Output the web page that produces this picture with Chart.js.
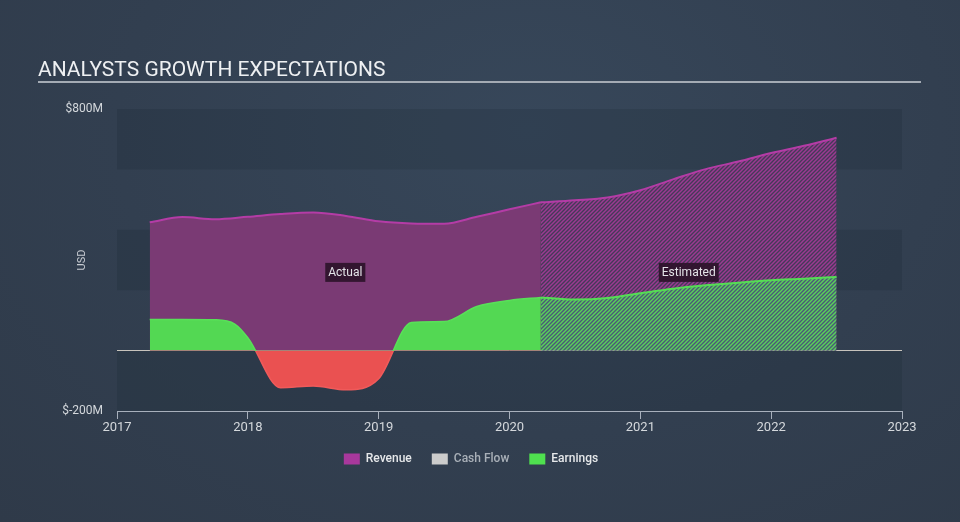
<!DOCTYPE html>
<html>
<head>
<meta charset="utf-8">
<script src="https://cdn.jsdelivr.net/npm/chart.js@4"></script>
<style>
  html, body { margin: 0; padding: 0; }
  body { width: 960px; height: 522px; overflow: hidden;
    background: radial-gradient(ellipse at 55% 25%, #37475a 0%, #323f50 55%, #2f3a49 100%); }
  #wrap { width: 960px; height: 522px; }
</style>
</head>
<body>
<div id="wrap"><canvas id="growth" width="960" height="522"></canvas></div>
<script>
// values in $M, x in decimal years
const revActualYears = [2017.25, 2017.5, 2017.75, 2018.0, 2018.25, 2018.5, 2018.75, 2019.0, 2019.25, 2019.5, 2019.75, 2020.0, 2020.24]
const revActual      = [425, 442, 435, 443, 452, 457, 446, 428, 421, 420, 443, 468, 491]
const revEstYears    = [2020.24, 2020.5, 2020.75, 2021.0, 2021.25, 2021.5, 2021.75, 2022.0, 2022.25, 2022.5]
const revEstimate    = [491, 498, 507, 531, 567, 601, 626, 654, 678, 705]

const earnActualYears = [2017.25, 2017.5, 2017.75, 2017.9, 2018.0, 2018.25, 2018.5, 2018.75, 2019.0, 2019.25, 2019.5, 2019.75, 2020.0, 2020.24]
const earnActual      = [103, 103, 102, 88, 43, -123, -117, -130, -93, 93, 96, 146, 166, 176]
const earnEstYears    = [2020.24, 2020.5, 2020.75, 2021.0, 2021.25, 2021.5, 2021.75, 2022.0, 2022.25, 2022.5]
const earnEstimate    = [176, 169, 174, 190, 205, 216, 225, 233, 238, 244]

const legendNames  = ['Revenue', 'Cash Flow', 'Earnings']
const legendColors = ['#a8389c', '#cccccc', '#4fe04f']
const legendText   = ['#e6e8ea', '#a9b0b8', '#e6e8ea']

const toPoints = (xs, ys) => xs.map((x, i) => ({x: x, y: ys[i]}))

const hatch = (bg, fg) => {
  const c = document.createElement('canvas')
  c.width = 4; c.height = 4
  const g = c.getContext('2d')
  g.fillStyle = bg
  g.fillRect(0, 0, 4, 4)
  g.strokeStyle = fg
  g.lineWidth = 1.5
  g.beginPath()
  g.moveTo(0, 4); g.lineTo(4, 0)
  g.moveTo(-1, 1); g.lineTo(1, -1)
  g.moveTo(3, 5); g.lineTo(5, 3)
  g.stroke()
  return g.createPattern(c, 'repeat')
}

// green above zero, red below, for the earnings outline
const earnBorder = (c) => {
  const chart = c.chart
  if (!chart.chartArea) return '#58e058'
  const {top, bottom} = chart.chartArea
  const y0 = chart.scales.y.getPixelForValue(0)
  const stop = Math.min(Math.max((y0 - top) / (bottom - top), 0), 1)
  const g = chart.ctx.createLinearGradient(0, top, 0, bottom)
  g.addColorStop(0, '#58e058')
  g.addColorStop(stop, '#58e058')
  g.addColorStop(stop, '#f05a5a')
  g.addColorStop(1, '#f05a5a')
  return g
}

// title, bands, USD label, Actual / Estimated tags
const decorations = {
  id: 'decorations',
  beforeDatasetsDraw(chart) {
    const {ctx, chartArea: a, scales: {y}} = chart
    ctx.save()
    ctx.fillStyle = 'rgba(10, 20, 30, 0.13)'
    ;[[800, 600], [400, 200], [0, -200]].forEach(([hi, lo]) => {
      const t = y.getPixelForValue(hi), b = y.getPixelForValue(lo)
      ctx.fillRect(a.left, t, a.right - a.left, b - t)
    })
    ctx.restore()
  },
  afterDraw(chart) {
    const {ctx, scales: {x, y}} = chart
    ctx.save()
    ctx.fillStyle = '#eef0f2'
    ctx.font = '21px Roboto'
    ctx.textBaseline = 'alphabetic'
    ctx.fillText('ANALYSTS GROWTH EXPECTATIONS', 38, 76)
    ctx.strokeStyle = '#a4abb4'
    ctx.lineWidth = 2
    ctx.beginPath(); ctx.moveTo(38, 82); ctx.lineTo(921, 82); ctx.stroke()

    ctx.translate(82, 260)
    ctx.rotate(-Math.PI / 2)
    ctx.font = '11px Roboto'
    ctx.fillStyle = '#c8ccd2'
    ctx.textAlign = 'center'
    ctx.textBaseline = 'middle'
    ctx.fillText('USD', 0, 0)
    ctx.restore()

    const split = revActualYears[revActualYears.length - 1]
    const tags = [
      ['Actual', (revActualYears[0] + split) / 2],
      ['Estimated', (split + revEstYears[revEstYears.length - 1]) / 2]
    ]
    ctx.save()
    ctx.font = '12px Roboto'
    ctx.textAlign = 'center'
    ctx.textBaseline = 'middle'
    tags.forEach(([txt, xv]) => {
      const px = x.getPixelForValue(xv), py = y.getPixelForValue(259)
      const w = ctx.measureText(txt).width + 6
      ctx.fillStyle = 'rgba(45, 20, 42, 0.92)'
      ctx.fillRect(px - w / 2, py - 9.5, w, 19)
      ctx.fillStyle = '#e4e4e8'
      ctx.fillText(txt, px, py + 0.5)
    })
    ctx.restore()
  }
}

const revHatch = hatch('#443a58', '#9c3a92')
const earnHatch = hatch('#4a5878', '#5ad05a')

const createGrowthChart = () => {
  const data = {
    datasets: [
      {
        label: 'Earnings',
        data: toPoints(earnActualYears, earnActual),
        borderColor: earnBorder,
        borderWidth: 1.5,
        fill: {target: 'origin', above: '#53d853', below: '#ea5151'},
        cubicInterpolationMode: 'monotone',
        pointRadius: 0
      },
      {
        label: 'Earnings estimate',
        data: toPoints(earnEstYears, earnEstimate),
        borderColor: '#55dd55',
        borderWidth: 2,
        backgroundColor: earnHatch,
        fill: 'origin',
        cubicInterpolationMode: 'monotone',
        pointRadius: 0
      },
      {
        label: 'Revenue',
        data: toPoints(revActualYears, revActual),
        borderColor: '#b43ca6',
        borderWidth: 2,
        backgroundColor: '#7a3a74',
        fill: 'origin',
        cubicInterpolationMode: 'monotone',
        pointRadius: 0
      },
      {
        label: 'Revenue estimate',
        data: toPoints(revEstYears, revEstimate),
        borderColor: '#b43ca6',
        borderWidth: 2,
        backgroundColor: revHatch,
        fill: 'origin',
        cubicInterpolationMode: 'monotone',
        pointRadius: 0
      },
      {
        label: 'Cash Flow',
        data: [],
        borderColor: '#cccccc',
        pointRadius: 0
      }
    ]
  }

  const config = {
    type: 'line',
    data: data,
    options: {
      responsive: false,
      animation: false,
      devicePixelRatio: 1,
      layout: {padding: {left: 40, top: 109, right: 58, bottom: 47}},
      scales: {
        x: {
          type: 'linear',
          min: 2017,
          max: 2023,
          afterFit: s => { s.height = 22 },
          ticks: {
            stepSize: 1,
            color: '#d4d8dc',
            font: {family: 'Roboto', size: 13},
            padding: 1,
            maxRotation: 0,
            callback: v => String(v)
          },
          grid: {drawOnChartArea: false, drawTicks: true, tickLength: 8, color: '#a8b0bc'},
          border: {color: '#a8b0bc', width: 1}
        },
        y: {
          min: -200,
          max: 800,
          afterFit: s => { s.width = 77 },
          ticks: {
            stepSize: 200,
            color: '#d4d8dc',
            font: {family: 'Roboto', size: 12},
            padding: 14,
            callback: v => v === 800 ? '$800M' : v === -200 ? '$-200M' : ''
          },
          grid: {
            drawTicks: false,
            color: c => c.tick && c.tick.value === 0 ? '#d2cdc6' : 'rgba(0,0,0,0)'
          },
          border: {display: false}
        }
      },
      plugins: {
        tooltip: {enabled: false},
        legend: {
          position: 'bottom',
          onClick: null,
          labels: {
            boxWidth: 16,
            boxHeight: 11,
            padding: 20,
            font: {family: 'Roboto', size: 12, weight: '500'},
            generateLabels: () => legendNames.map((name, i) => ({
              text: name,
              fillStyle: legendColors[i],
              strokeStyle: legendColors[i],
              lineWidth: 0,
              fontColor: legendText[i],
              hidden: false,
              datasetIndex: i
            }))
          }
        }
      }
    },
    plugins: [decorations]
  }

  new Chart(document.getElementById('growth'), config)
}

createGrowthChart()
</script>
</body>
</html>
